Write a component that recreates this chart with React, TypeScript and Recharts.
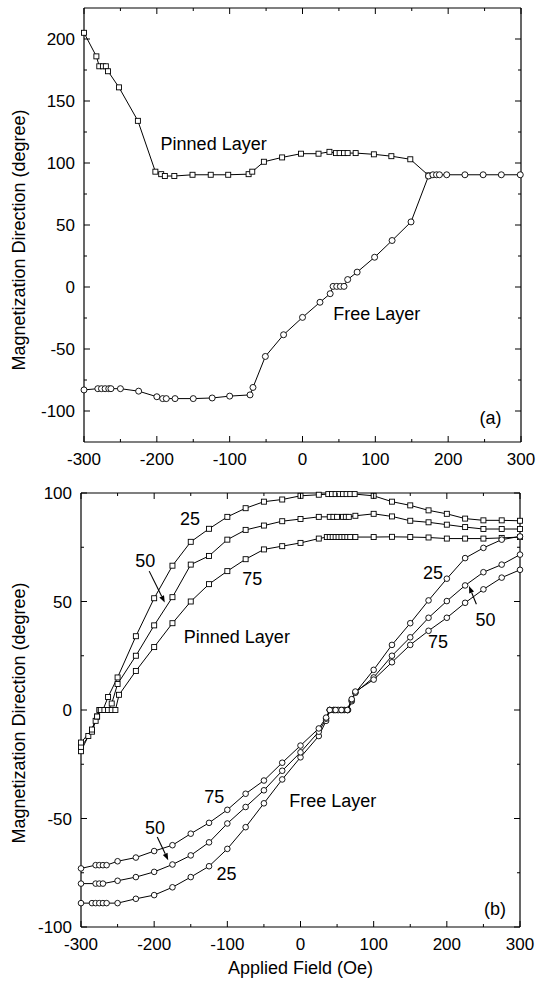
import React from 'react';
import { LineChart, Line, XAxis, YAxis, ReferenceDot, ReferenceLine } from 'recharts';

const FONT = '"Liberation Sans", Arial, Helvetica, sans-serif';

// ---------- Panel (a) ----------
const fieldA_pinned = [-300, -283, -279, -274, -270, -267, -252, -226, -202, -194, -189, -176, -151, -126, -102, -74, -69, -53, -28, -2, 22, 37, 46, 51, 57, 62, 73, 98, 122, 148, 173];
const angleA_pinned = [205, 186, 178, 178, 178, 174, 161, 134, 93, 91, 89.5, 89.5, 90.5, 90.5, 90.5, 91, 93, 101, 104.5, 107.5, 107.5, 109, 108, 108, 108, 108, 108, 107, 105.5, 103, 90];
const fieldA_free = [-300, -281, -276, -271, -266, -263, -250, -225, -200, -192, -187, -175, -150, -124, -100, -72, -68, -51, -26, 0, 24, 38, 42, 47, 52, 57, 62, 75, 99, 123, 149, 173, 179, 184, 188, 198, 223, 248, 273, 299];
const angleA_free = [-83, -82, -82, -82, -82, -82, -82, -84, -88.5, -90, -90, -90, -90, -89.5, -88, -87, -81, -56, -38.5, -24.5, -12.3, -5.4, 0.5, 0.5, 0.5, 0.5, 6, 12, 24, 37.5, 52.5, 89.5, 90.5, 90.5, 90.5, 90.5, 90.5, 90.5, 90.5, 90.5];

// ---------- Panel (b) ----------
const fieldB_pinned25 = [-300, -290, -280, -275, -270, -263, -250, -225, -200, -175, -150, -125, -100, -75, -50, -25, 0, 25, 38, 43, 48, 53, 58, 63, 68, 74, 100, 125, 150, 175, 200, 225, 250, 275, 300];
const angleB_pinned25 = [-19, -12, -5, 0, 0, 6, 15, 34, 51.5, 66.5, 77.5, 83.5, 89, 93, 96, 97, 98.7, 99.2, 99.5, 99.5, 99.5, 99.5, 99.5, 99.5, 99.5, 99.5, 98.7, 96, 94.3, 92, 90.4, 88.2, 87.4, 87.4, 87.2];
const fieldB_pinned50 = [-300, -285, -278, -273, -268, -263, -258, -250, -225, -200, -175, -150, -125, -100, -75, -50, -25, 0, 25, 40, 45, 50, 58, 62, 66, 75, 100, 125, 150, 175, 200, 225, 250, 275, 300];
const angleB_pinned50 = [-17, -10, -3, 0, 0, 0, 3, 12, 25, 39, 52, 67, 71, 78.5, 83, 85, 87, 88, 89, 89, 89, 89, 89, 89, 89, 89.5, 90.4, 89.2, 87.2, 86.5, 85.4, 84.3, 83.4, 83.4, 83.4];
const fieldB_pinned75 = [-300, -285, -278, -273, -268, -263, -258, -253, -248, -225, -200, -175, -150, -125, -100, -75, -50, -25, 0, 25, 36, 40, 44, 48, 52, 56, 60, 64, 68, 75, 100, 125, 150, 175, 200, 225, 250, 275, 300];
const angleB_pinned75 = [-15, -9, -3, 0, 0, 0, 0, 0, 7, 18, 29, 40, 50, 58, 64, 69.5, 74, 75.5, 77, 79, 79.7, 79.7, 79.7, 79.7, 79.7, 79.7, 79.7, 79.7, 79.7, 79.7, 79.7, 79.8, 79.7, 79.5, 79, 79, 79, 79.3, 79.7];

const fieldB_free25 = [-300, -285, -280, -275, -270, -265, -250, -225, -200, -175, -150, -125, -100, -75, -50, -25, 0, 25, 35, 40, 45, 50, 55, 60, 65, 70, 75, 100, 125, 150, 175, 200, 225, 250, 275, 300];
const angleB_free25 = [-89, -89, -89, -89, -89, -89, -89, -87, -85.3, -81.7, -77, -72, -64, -54, -43, -32, -21.8, -12, -5, 0, 0, 0, 0, 0, 0, 4, 8, 18.5, 30, 40, 50.5, 60.5, 70, 74.7, 78.5, 80];
const fieldB_free50 = [-300, -280, -275, -270, -250, -225, -200, -175, -150, -125, -100, -75, -50, -25, 0, 25, 35, 40, 46, 52, 58, 64, 70, 75, 100, 125, 150, 175, 200, 225, 250, 275, 300];
const angleB_free50 = [-80, -80, -80, -80, -78.7, -77, -74.6, -71.2, -67, -61, -52.3, -44.7, -37, -28, -19.5, -10, -4, 0, 0, 0, 0, 0, 4.5, 8, 15, 25, 33.5, 42.5, 50.2, 57.4, 63.5, 67, 71.6];
const fieldB_free75 = [-300, -280, -275, -270, -265, -250, -225, -200, -175, -150, -125, -100, -75, -50, -25, 0, 25, 35, 40, 48, 56, 64, 70, 75, 100, 125, 150, 175, 200, 225, 250, 275, 300];
const angleB_free75 = [-73, -71.5, -71.5, -71.5, -71.5, -69.7, -68, -65, -62.3, -57, -52, -46, -38.6, -32.5, -24.3, -16.4, -8.5, -3.5, 0, 0, 0, 0, 5, 8.5, 14, 22, 30, 36.5, 42.5, 49.4, 55.6, 61, 64.6];

// ---------- Ticks ----------
const xTicks = [-300, -250, -200, -150, -100, -50, 0, 50, 100, 150, 200, 250, 300];
const xMajor = [-300, -200, -100, 0, 100, 200, 300];
const yTicksA = [-100, -75, -50, -25, 0, 25, 50, 75, 100, 125, 150, 175, 200];
const yMajorA = [-100, -50, 0, 50, 100, 150, 200];
const yTicksB = [-100, -75, -50, -25, 0, 25, 50, 75, 100];
const yMajorB = [-100, -50, 0, 50, 100];

// ---------- Annotations ----------
const notesA = [
  { text: 'Pinned Layer', x: -122, y: 116 },
  { text: 'Free Layer', x: 102, y: -21 },
  { text: '(a)', x: 258, y: -105 },
];
const notesB = [
  { text: '25', x: -151, y: 88.2 },
  { text: '50', x: -212, y: 69 },
  { text: '75', x: -66, y: 60.5 },
  { text: 'Pinned Layer', x: -87, y: 34 },
  { text: '25', x: 181, y: 63.5 },
  { text: '50', x: 253, y: 41.8 },
  { text: '75', x: 188, y: 31.5 },
  { text: '75', x: -118, y: -40 },
  { text: '50', x: -199, y: -54 },
  { text: '25', x: -101, y: -75.3 },
  { text: 'Free Layer', x: 44, y: -41.6 },
  { text: '(b)', x: 266, y: -91.4 },
];
const arrowsB = [
  { from: { x: -206.8, y: 64 }, to: { x: -185.5, y: 49.5 } },
  { from: { x: 240.4, y: 48.7 }, to: { x: 230.3, y: 57.1 } },
  { from: { x: -195.8, y: -58.5 }, to: { x: -180.8, y: -69.2 } },
];

const pts = (xs: number[], ys: number[]) => xs.map((x, i) => ({ x, y: ys[i] }));

const MAJ = 6;
const MIN = 3;
const tickTextProps = { fontSize: 17, fontFamily: FONT, fill: '#000' };

const bottomTick = (majors: number[], showLabel: boolean) => (p: any) => {
  const v = p.payload.value;
  const major = majors.includes(v);
  return (
    <g key={`bt${v}`}>
      <line x1={p.x} x2={p.x} y1={p.y} y2={p.y - (major ? MAJ : MIN)} stroke="#000" strokeWidth={1} />
      {showLabel && major && (
        <text x={p.x} y={p.y + 17} dy="0.36em" textAnchor="middle" {...tickTextProps}>{v}</text>
      )}
    </g>
  );
};
const topTick = (majors: number[]) => (p: any) => {
  const v = p.payload.value;
  const major = majors.includes(v);
  return <line key={`tt${v}`} x1={p.x} x2={p.x} y1={p.y} y2={p.y + (major ? MAJ : MIN)} stroke="#000" strokeWidth={1} />;
};
const leftTick = (majors: number[]) => (p: any) => {
  const v = p.payload.value;
  const major = majors.includes(v);
  return (
    <g key={`lt${v}`}>
      <line x1={p.x} x2={p.x + (major ? MAJ : MIN)} y1={p.y} y2={p.y} stroke="#000" strokeWidth={1} />
      {major && (
        <text x={p.x - 9} y={p.y} dy="0.36em" textAnchor="end" {...tickTextProps}>{v}</text>
      )}
    </g>
  );
};
const rightTick = (majors: number[]) => (p: any) => {
  const v = p.payload.value;
  const major = majors.includes(v);
  return <line key={`rt${v}`} x1={p.x} x2={p.x - (major ? MAJ : MIN)} y1={p.y} y2={p.y} stroke="#000" strokeWidth={1} />;
};

const squareDot = (p: any) => (
  <rect key={`s${p.index}`} x={p.cx - 2.5} y={p.cy - 2.5} width={5} height={5} fill="#fff" stroke="#000" strokeWidth={0.9} />
);
const circleDot = (r: number) => (p: any) => (
  <circle key={`c${p.index}`} cx={p.cx} cy={p.cy} r={r} fill="#fff" stroke="#000" strokeWidth={0.9} />
);

const noteShape = (text: string) => (p: any) => (
  <text x={p.cx} y={p.cy} dy="0.36em" textAnchor="middle" fontSize={18} fontFamily={FONT} fill="#000">{text}</text>
);

const arrowShape = (p: any) => {
  const { x1, y1, x2, y2 } = p;
  const dx = x2 - x1;
  const dy = y2 - y1;
  const L = Math.hypot(dx, dy) || 1;
  const ux = dx / L;
  const uy = dy / L;
  const hl = 7;
  const hw = 2.6;
  const bx = x2 - ux * hl;
  const by = y2 - uy * hl;
  return (
    <g>
      <line x1={x1} y1={y1} x2={bx} y2={by} stroke="#000" strokeWidth={1.1} />
      <polygon points={`${x2},${y2} ${bx - uy * hw},${by + ux * hw} ${bx + uy * hw},${by - ux * hw}`} fill="#000" />
    </g>
  );
};

const yLabel = (off: number) => (p: any) => {
  const vb = p.viewBox || { y: 0, height: 0 };
  const cx = 19;
  const cy = vb.y + vb.height / 2 + off;
  return (
    <text x={cx} y={cy} transform={`rotate(-90 ${cx} ${cy})`} textAnchor="middle" dominantBaseline="central" fontSize={18} fontFamily={FONT} fill="#000">
      Magnetization Direction (degree)
    </text>
  );
};
const xLabel = (p: any) => {
  const vb = p.viewBox || { x: 0, y: 0, width: 0 };
  return (
    <text x={vb.x + vb.width / 2} y={vb.y + 41} dy="0.36em" textAnchor="middle" fontSize={18} fontFamily={FONT} fill="#000">
      Applied Field (Oe)
    </text>
  );
};

const axisLine = { stroke: '#000', strokeWidth: 1.2 };

function Frame(props: { yDomain: [number, number]; yTicks: number[]; yMajor: number[] }) {
  return null;
}

export default function App() {
  const lineCommon = {
    xAxisId: 'b',
    yAxisId: 'l',
    dataKey: 'y',
    type: 'linear' as const,
    stroke: '#000',
    strokeWidth: 1,
    isAnimationActive: false,
    activeDot: false as const,
  };
  return (
    <div style={{ position: 'absolute', left: 0, top: 0, width: 538, height: 983, background: '#fff' }}>
      <div style={{ position: 'absolute', left: 0, top: 0 }}>
        <LineChart width={538} height={480} margin={{ top: 7, right: 16, bottom: 8, left: 24 }}>
          <XAxis xAxisId="b" type="number" dataKey="x" domain={[-300, 300]} ticks={xTicks} interval={0}
            tickLine={false} tickSize={0} tickMargin={0} axisLine={axisLine} height={30} tick={bottomTick(xMajor, true)} />
          <XAxis xAxisId="t" orientation="top" type="number" dataKey="x" domain={[-300, 300]} allowDataOverflow ticks={xTicks} interval={0}
            tickLine={false} tickSize={0} tickMargin={0} axisLine={axisLine} height={1} tick={topTick(xMajor)} />
          <YAxis yAxisId="l" type="number" domain={[-125, 225]} ticks={yTicksA} interval={0}
            tickLine={false} tickSize={0} tickMargin={0} axisLine={axisLine} width={60} tick={leftTick(yMajorA)} label={yLabel(15)} />
          <YAxis yAxisId="r" orientation="right" type="number" domain={[-125, 225]} allowDataOverflow ticks={yTicksA} interval={0}
            tickLine={false} tickSize={0} tickMargin={0} axisLine={axisLine} width={1} tick={rightTick(yMajorA)} />
          <Line {...lineCommon} data={pts(fieldA_pinned, angleA_pinned)} dot={squareDot} />
          <Line {...lineCommon} data={pts(fieldA_free, angleA_free)} dot={circleDot(3)} />
          {notesA.map((n, i) => (
            <ReferenceDot key={`na${i}`} xAxisId="b" yAxisId="l" x={n.x} y={n.y} r={0} shape={noteShape(n.text)} />
          ))}
        </LineChart>
      </div>
      <div style={{ position: 'absolute', left: 0, top: 480 }}>
        <LineChart width={538} height={503} margin={{ top: 12, right: 17, bottom: 6, left: 21 }}>
          <XAxis xAxisId="b" type="number" dataKey="x" domain={[-300, 300]} ticks={xTicks} interval={0}
            tickLine={false} tickSize={0} tickMargin={0} axisLine={axisLine} height={50} tick={bottomTick(xMajor, true)} label={xLabel} />
          <XAxis xAxisId="t" orientation="top" type="number" dataKey="x" domain={[-300, 300]} allowDataOverflow ticks={xTicks} interval={0}
            tickLine={false} tickSize={0} tickMargin={0} axisLine={axisLine} height={1} tick={topTick(xMajor)} />
          <YAxis yAxisId="l" type="number" domain={[-100, 100]} ticks={yTicksB} interval={0}
            tickLine={false} tickSize={0} tickMargin={0} axisLine={axisLine} width={60} tick={leftTick(yMajorB)} label={yLabel(3)} />
          <YAxis yAxisId="r" orientation="right" type="number" domain={[-100, 100]} allowDataOverflow ticks={yTicksB} interval={0}
            tickLine={false} tickSize={0} tickMargin={0} axisLine={axisLine} width={1} tick={rightTick(yMajorB)} />
          <Line {...lineCommon} data={pts(fieldB_pinned25, angleB_pinned25)} dot={squareDot} />
          <Line {...lineCommon} data={pts(fieldB_pinned50, angleB_pinned50)} dot={squareDot} />
          <Line {...lineCommon} data={pts(fieldB_pinned75, angleB_pinned75)} dot={squareDot} />
          <Line {...lineCommon} data={pts(fieldB_free25, angleB_free25)} dot={circleDot(2.8)} />
          <Line {...lineCommon} data={pts(fieldB_free50, angleB_free50)} dot={circleDot(2.8)} />
          <Line {...lineCommon} data={pts(fieldB_free75, angleB_free75)} dot={circleDot(2.8)} />
          {arrowsB.map((a, i) => (
            <ReferenceLine key={`ar${i}`} xAxisId="b" yAxisId="l" segment={[a.from, a.to]} shape={arrowShape} />
          ))}
          {notesB.map((n, i) => (
            <ReferenceDot key={`nb${i}`} xAxisId="b" yAxisId="l" x={n.x} y={n.y} r={0} shape={noteShape(n.text)} />
          ))}
        </LineChart>
      </div>
    </div>
  );
}
